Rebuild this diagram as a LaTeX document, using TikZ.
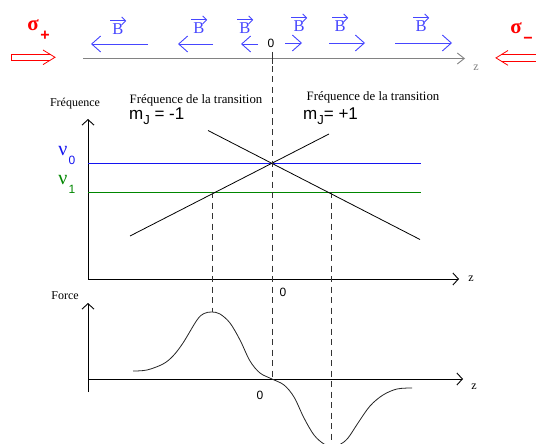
\documentclass[tikz,border=0pt]{standalone}
\usepackage{fontspec}
\setmainfont{Liberation Serif}
\setsansfont{Liberation Sans}
\usetikzlibrary{arrows.meta}
\definecolor{bblue}{RGB}{70,70,255}
\definecolor{nblue}{RGB}{20,20,240}
\definecolor{ngreen}{RGB}{0,135,0}
\definecolor{axgray}{RGB}{130,130,130}
\tikzset{
  axisline/.style={line width=0.9pt,-{Straight Barb[length=5.5pt,width=12pt]}},
  bvec/.style={bblue,line width=0.9pt,-{Straight Barb[length=9pt,width=16pt]}},
  bover/.style={bblue,line width=0.8pt,-{Straight Barb[length=4pt,width=8pt]}},
  dsh/.style={dash pattern=on 6pt off 4.5pt,line width=0.9pt,black!80},
  blab/.style={bblue,font=\fontsize{16.5}{16.5}\selectfont,inner sep=0pt},
  ttl/.style={font=\fontsize{12.8}{13}\selectfont,inner sep=0pt},
  mj/.style={font=\sffamily\fontsize{17}{17}\selectfont,inner sep=0pt},
  zero/.style={font=\sffamily\fontsize{12}{12}\selectfont,inner sep=0pt},
  zlab/.style={font=\fontsize{12}{12}\selectfont,inner sep=0pt},
  redarr/.style={red,line width=0.8pt},
}
\begin{document}
\begin{tikzpicture}[x=1pt,y=-1pt]
\clip (0,0) rectangle (536,444);
\fill[white] (0,0) rectangle (536,444);

% ---------- top axis ----------
\coordinate (t0) at (83,58.5);
\coordinate (t1) at (465,58.5);
\draw[axgray,line width=0.9pt,-{Straight Barb[length=7pt,width=11pt]}] (t0) -- (t1);
\node[zlab,text=axgray] (tz) at (476,68) {z};
\coordinate (tk0) at (272,52);
\coordinate (tk1) at (272,64);
\draw[line width=0.9pt,black!80] (tk0) -- (tk1);
\node[zero] (t0lab) at (271,43) {0};

% B field arrows
\coordinate (b1s) at (148,44); \coordinate (b1e) at (91,44);
\coordinate (b2s) at (213,44); \coordinate (b2e) at (178,44);
\coordinate (b3s) at (258,44); \coordinate (b3e) at (241,44);
\coordinate (b4s) at (285,43); \coordinate (b4e) at (302,43);
\coordinate (b5s) at (329,43); \coordinate (b5e) at (365,43);
\coordinate (b6s) at (395,43); \coordinate (b6e) at (452,43);
\draw[bvec] (b1s) -- (b1e);
\draw[bvec] (b2s) -- (b2e);
\draw[bvec] (b3s) -- (b3e);
\draw[bvec] (b4s) -- (b4e);
\draw[bvec] (b5s) -- (b5e);
\draw[bvec] (b6s) -- (b6e);
\foreach \n/\x/\y in {B1/118/29,B2/199/28,B3/245/28,B4/299/26,B5/340/26,B6/421/26}{
  \node[blab] (\n) at (\x,\y) {B};
  \draw[bover] ([xshift=-2pt,yshift=2.5pt]\n.north west) -- ([xshift=2.5pt,yshift=2.5pt]\n.north east);
}

% sigma+ (left)
\node[red,font=\fontsize{21}{21}\selectfont\bfseries,inner sep=0pt] (sp) at (33,25) {σ};
\node[red,font=\sffamily\fontsize{16}{16}\selectfont\bfseries,inner sep=0pt] (spp) at (45,36) {+};
\draw[redarr] (50,54.3) -- (11,54.3) -- (11,60.3) -- (50,60.3);
\draw[redarr] (43,50) -- (55,57.3) -- (43,64.6);
% sigma- (right)
\node[red,font=\fontsize{21}{21}\selectfont\bfseries,inner sep=0pt] (sm) at (516,28) {σ};
\node[red,font=\sffamily\fontsize{16}{16}\selectfont\bfseries,inner sep=0pt] (smm) at (528,40) {\textminus};
\draw[redarr] (502,54.8) -- (537,54.8);
\draw[redarr] (502,61) -- (537,61);
\draw[redarr] (508,50.5) -- (496,57.9) -- (508,65.3);

% ---------- frequency graph ----------
\coordinate (fo) at (88,279);
\coordinate (fy) at (88,119);
\coordinate (fx) at (459,279);
\draw[axisline] (fo) -- (fy);
\draw[axisline] (fo) -- (fx);
\node[zlab] (fz) at (471,279) {z};
\node[zero] (f0) at (283,292) {0};
\node[font=\fontsize{12}{12}\selectfont,inner sep=0pt] (freq) at (75,104) {Fréquence};

\coordinate (n0a) at (88,163); \coordinate (n0b) at (421,163);
\coordinate (n1a) at (88,192); \coordinate (n1b) at (421,192);
\draw[nblue,line width=0.9pt] (n0a) -- (n0b);
\draw[ngreen,line width=0.9pt] (n1a) -- (n1b);
\node[nblue,font=\fontsize{20}{20}\selectfont,inner sep=0pt] (nu0) at (63,151) {ν};
\node[nblue,font=\sffamily\fontsize{12}{12}\selectfont,inner sep=0pt] (nu0s) at (72,160) {0};
\node[ngreen,font=\fontsize{20}{20}\selectfont,inner sep=0pt] (nu1) at (63,180) {ν};
\node[ngreen,font=\sffamily\fontsize{12}{12}\selectfont,inner sep=0pt] (nu1s) at (72,189) {1};

\coordinate (la) at (208,130.5); \coordinate (lb) at (420,239.5);
\coordinate (lc) at (130,236); \coordinate (ld) at (329,134);
\draw[line width=0.8pt] (la) -- (lb);
\draw[line width=0.8pt] (lc) -- (ld);

\node[ttl] (t1l) at (196,100) {Fréquence de la transition};
\node[mj,anchor=west] (mj1) at (129,116) {m\raisebox{-5pt}{\fontsize{13}{13}\selectfont J} = -1};
\node[ttl] (t2l) at (373,97) {Fréquence de la transition};
\node[mj,anchor=west] (mj2) at (303,116) {m\raisebox{-5pt}{\fontsize{13}{13}\selectfont J}= +1};

% ---------- force graph ----------
\coordinate (go) at (88,392);
\coordinate (gy) at (88,303);
\coordinate (gxa) at (88,379);
\coordinate (gx) at (463,379);
\draw[axisline] (go) -- (gy);
\draw[axisline] (gxa) -- (gx);
\node[zlab] (gz) at (474,387) {z};
\node[zero] (g0) at (260,395) {0};
\node[font=\fontsize{12}{12}\selectfont,inner sep=0pt] (force) at (65,296) {Force};

\draw[line width=0.8pt,black!85] plot[smooth,tension=0.55] coordinates {
  (133,371) (147,370) (163,364) (173,356) (183,343) (197,320) (204,313.5) (212,312)
  (220,314) (230,323) (240,340) (250,361) (260,373) (272,379)
  (284,385) (294,397) (304,418) (314,435) (324,444) (332,446) (340,444.5) (348,438)
  (358,423) (370,406) (383,395) (397,389) (412,388)};

% ---------- dashed lines ----------
\coordinate (d0a) at (272,66); \coordinate (d0b) at (272,379);
\coordinate (d1a) at (212,192); \coordinate (d1b) at (212,312);
\coordinate (d2a) at (331,192); \coordinate (d2b) at (331,444);
\draw[dsh] (d0a) -- (d0b);
\draw[dsh] (d1a) -- (d1b);
\draw[dsh] (d2a) -- (d2b);
\end{tikzpicture}
\end{document}
